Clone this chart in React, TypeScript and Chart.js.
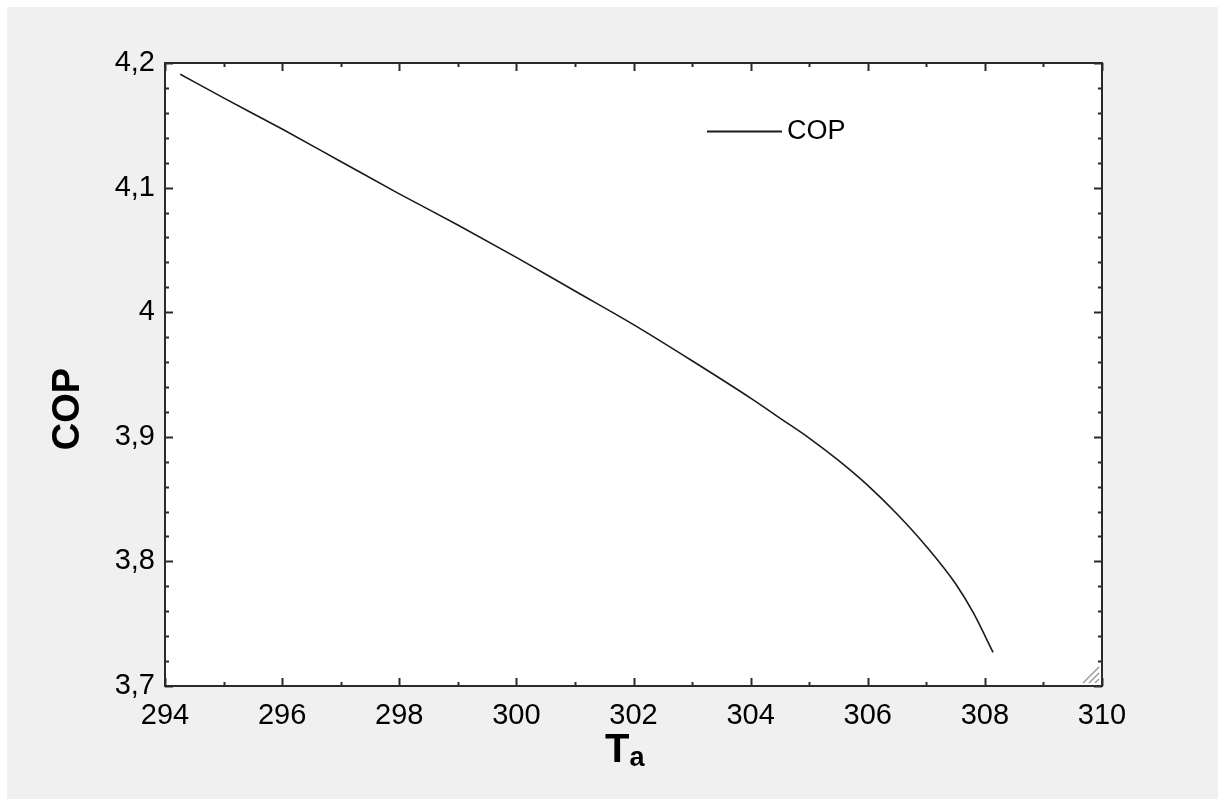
import React, { useEffect, useRef } from "react";
import { Chart, registerables } from "chart.js";

Chart.register(...registerables);

// ---- data ----
const temperatures = [294.26, 295, 296, 297, 298, 299, 300, 301, 302, 303, 304, 304.5, 305, 305.5, 306, 306.5, 307, 307.5, 307.8, 308.14];
const copValues = [4.191, 4.172, 4.147, 4.121, 4.095, 4.07, 4.044, 4.017, 3.99, 3.961, 3.931, 3.915, 3.899, 3.881, 3.861, 3.838, 3.812, 3.782, 3.759, 3.727];
const seriesLabel = "COP";

const xTicks = [294, 296, 298, 300, 302, 304, 306, 308, 310];
const xTickLabels = ["294", "296", "298", "300", "302", "304", "306", "308", "310"];
const yTicks = [3.7, 3.8, 3.9, 4.0, 4.1, 4.2];
const yTickLabels = ["3,7", "3,8", "3,9", "4", "4,1", "4,2"];
const xMinorStep = 1;
const yMinorStep = 0.02;

const xTitleMain = "T";
const xTitleSub = "a";
const yTitle = "COP";

const FONT = "'Liberation Sans', Arial, sans-serif";

const decorPlugin = {
  id: "decor",
  beforeDraw(chart: any) {
    const { ctx, chartArea: a } = chart;
    ctx.save();
    ctx.fillStyle = "#ffffff";
    ctx.fillRect(a.left, a.top, a.right - a.left, a.bottom - a.top);
    ctx.restore();
  },
  afterDraw(chart: any) {
    const { ctx, chartArea: a } = chart;
    const xs = chart.scales.x;
    const ys = chart.scales.y;
    ctx.save();
    ctx.strokeStyle = "#2a2a2a";
    ctx.lineWidth = 2;
    ctx.strokeRect(a.left, a.top, a.right - a.left, a.bottom - a.top);

    // x ticks (inward, top and bottom)
    ctx.lineWidth = 2;
    const xMin = xs.min, xMax = xs.max;
    for (let v = xMin; v <= xMax + 1e-9; v += xMinorStep) {
      const px = Math.round(xs.getPixelForValue(v)) + 0.5;
      const major = xTicks.some((t) => Math.abs(t - v) < 1e-6);
      const len = major ? 8 : 4;
      ctx.beginPath();
      ctx.moveTo(px, a.bottom);
      ctx.lineTo(px, a.bottom - len);
      ctx.moveTo(px, a.top);
      ctx.lineTo(px, a.top + len);
      ctx.stroke();
    }
    const yMin = ys.min, yMax = ys.max;
    const n = Math.round((yMax - yMin) / yMinorStep);
    for (let i = 0; i <= n; i++) {
      const v = yMin + i * yMinorStep;
      const py = Math.round(ys.getPixelForValue(v)) + 0.5;
      const major = yTicks.some((t) => Math.abs(t - v) < 1e-6);
      const len = major ? 8 : 4;
      ctx.beginPath();
      ctx.moveTo(a.left, py);
      ctx.lineTo(a.left + len, py);
      ctx.moveTo(a.right, py);
      ctx.lineTo(a.right - len, py);
      ctx.stroke();
    }

    // legend
    const ds = chart.data.datasets[0];
    ctx.strokeStyle = ds.borderColor;
    ctx.lineWidth = 2;
    ctx.beginPath();
    ctx.moveTo(700, 124.5);
    ctx.lineTo(775, 124.5);
    ctx.stroke();
    ctx.fillStyle = "#000";
    ctx.font = `27px ${FONT}`;
    ctx.textBaseline = "alphabetic";
    ctx.textAlign = "left";
    ctx.fillText(ds.label, 780, 132);

    // x title with subscript
    ctx.font = `bold 40px ${FONT}`;
    ctx.fillText(xTitleMain, 598, 755);
    const tw = ctx.measureText(xTitleMain).width;
    ctx.font = `bold 27px ${FONT}`;
    ctx.fillText(xTitleSub, 598 + tw, 759);

    // y title
    ctx.save();
    ctx.translate(72, 402);
    ctx.rotate(-Math.PI / 2);
    ctx.font = `bold 38px ${FONT}`;
    ctx.textAlign = "center";
    ctx.textBaseline = "alphabetic";
    ctx.fillText(yTitle, 0, 0);
    ctx.restore();

    // resize grip
    ctx.strokeStyle = "#9a9a9a";
    ctx.lineWidth = 1.5;
    for (let k = 0; k < 3; k++) {
      ctx.beginPath();
      ctx.moveTo(a.right - 19 + 6 * k, a.bottom - 3);
      ctx.lineTo(a.right - 3, a.bottom - 19 + 6 * k);
      ctx.stroke();
    }
    ctx.restore();
  },
};

export default function App() {
  const ref = useRef<HTMLCanvasElement | null>(null);
  useEffect(() => {
    if (!ref.current) return;
    const chart = new Chart(ref.current, {
      type: "line",
      data: {
        datasets: [
          {
            label: seriesLabel,
            data: temperatures.map((t, i) => ({ x: t, y: copValues[i] })),
            borderColor: "#1a1a1a",
            borderWidth: 1.6,
            pointRadius: 0,
            fill: false,
            cubicInterpolationMode: "monotone",
          },
        ],
      },
      options: {
        responsive: false,
        animation: false,
        layout: { padding: { top: 56, right: 116, left: 0, bottom: 0 } },
        plugins: { legend: { display: false }, tooltip: { enabled: false } },
        scales: {
          x: {
            type: "linear",
            min: 294,
            max: 310,
            grid: { display: false, drawTicks: false },
            border: { display: false },
            afterBuildTicks: (s: any) => {
              s.ticks = xTicks.map((v) => ({ value: v }));
            },
            afterFit: (s: any) => {
              s.height = 113;
            },
            ticks: {
              autoSkip: false,
              maxRotation: 0,
              padding: 13,
              color: "#000",
              font: { family: FONT, size: 29 },
              callback: (_v: any, i: number) => xTickLabels[i],
            },
          },
          y: {
            type: "linear",
            min: 3.7,
            max: 4.2,
            grid: { display: false, drawTicks: false },
            border: { display: false },
            afterBuildTicks: (s: any) => {
              s.ticks = yTicks.map((v) => ({ value: v }));
            },
            afterFit: (s: any) => {
              s.width = 158;
            },
            ticks: {
              autoSkip: false,
              padding: 10,
              color: "#000",
              font: { family: FONT, size: 29 },
              callback: (_v: any, i: number) => yTickLabels[i],
            },
          },
        },
      },
      plugins: [decorPlugin],
    } as any);
    return () => chart.destroy();
  }, []);
  return (
    <div
      style={{
        position: "fixed",
        left: 7,
        top: 7,
        width: 1211,
        height: 792,
        background: "#f0f0f0",
      }}
    >
      <canvas ref={ref} width={1211} height={792} style={{ display: "block" }} />
    </div>
  );
}
